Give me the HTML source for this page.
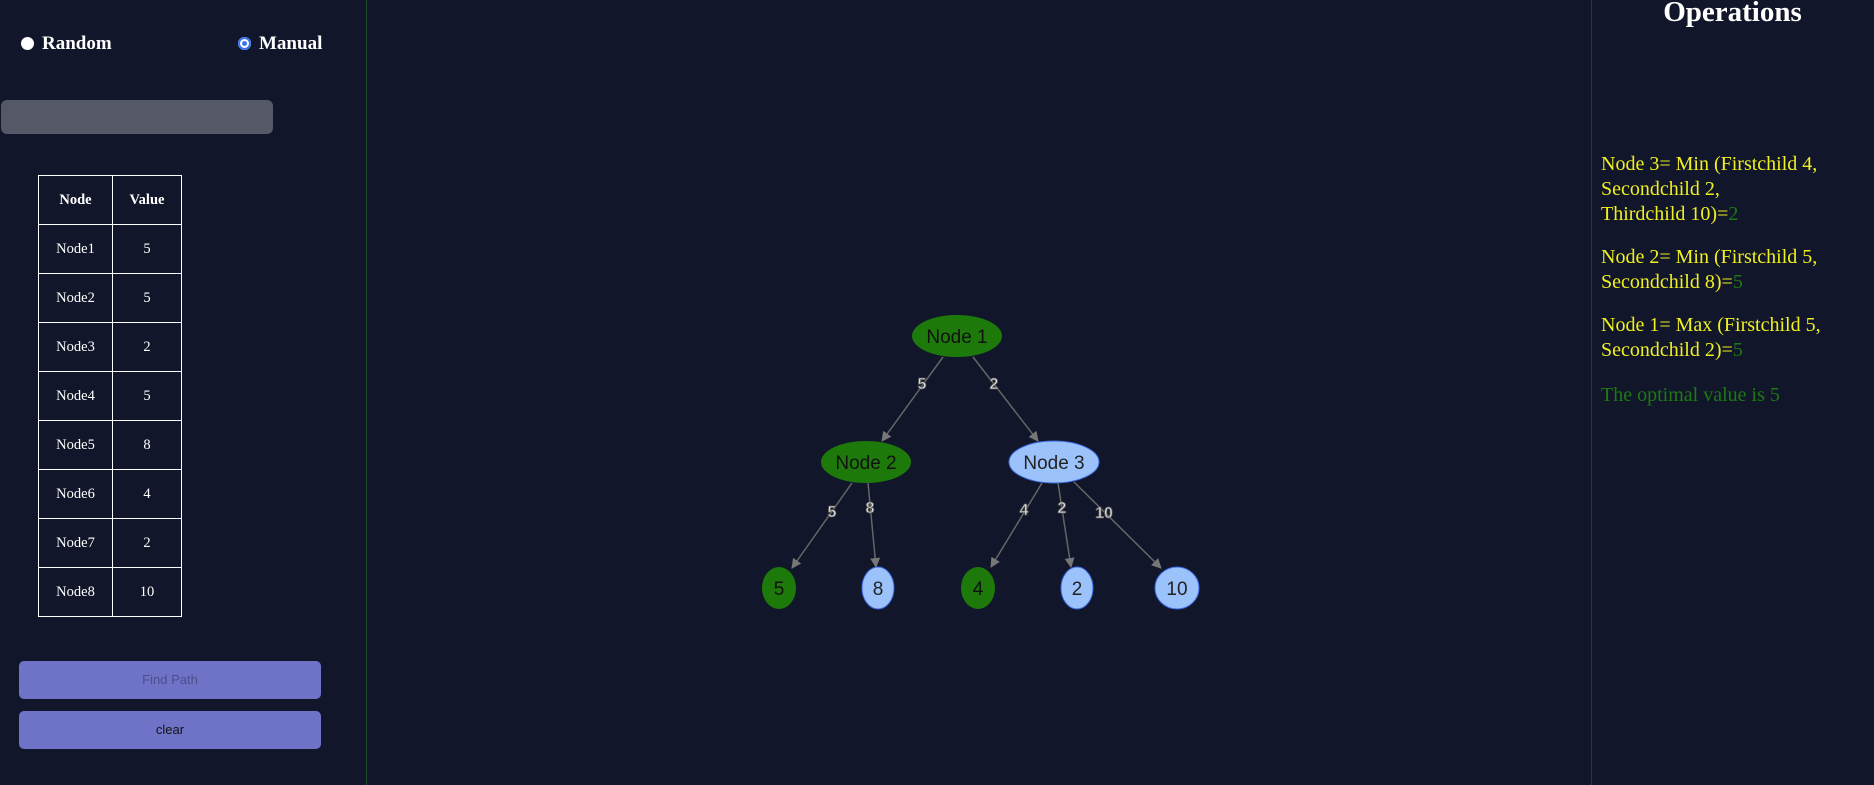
<!DOCTYPE html>
<html><head><style>
body{margin:0;width:1874px;height:785px;background:#11162a;overflow:hidden;font-family:"Liberation Serif",serif;position:relative}
.side{position:absolute;left:0;top:0;width:366px;height:785px;border-right:1px solid #1f4a2a}
.rp{position:absolute;left:1591px;top:0;width:283px;height:785px;border-left:1px solid #253a30}
.radio{position:absolute;top:37px;width:13px;height:13px;border-radius:50%;background:#fff}
.lbl{position:absolute;top:33px;color:#fff;font-weight:bold;font-size:19px}
.inp{position:absolute;left:1px;top:100px;width:272px;height:34px;background:#555866;border-radius:6px}
table{position:absolute;left:38px;top:175px;border-collapse:collapse;color:#fff;font-size:14.5px}
td,th{border:1px solid #fff;height:48px;text-align:center;padding:0}
.btn{position:absolute;left:19px;width:302px;height:38px;background:#6f73c8;border-radius:5px;font-family:"Liberation Sans",sans-serif;font-size:13px;text-align:center;line-height:38px}
.op{position:absolute;left:1601px;color:#f0f020;font-size:20px;line-height:25px;white-space:nowrap}
.g{color:#1d7a10}
</style></head><body>
<div class="side">
<div class="radio" style="left:21px"></div><div class="lbl" style="left:42px">Random</div>
<div class="radio" style="left:238px;box-shadow:inset 0 0 0 2px #3b72f0,inset 0 0 0 4px #fff,inset 0 0 0 7px #3b72f0"></div><div class="lbl" style="left:259px">Manual</div>
<div class="inp"></div>
<table>
<tr><th style="width:73px">Node</th><th style="width:68px">Value</th></tr>
<tr><td>Node1</td><td>5</td></tr><tr><td>Node2</td><td>5</td></tr><tr><td>Node3</td><td>2</td></tr><tr><td>Node4</td><td>5</td></tr><tr><td>Node5</td><td>8</td></tr><tr><td>Node6</td><td>4</td></tr><tr><td>Node7</td><td>2</td></tr><tr><td>Node8</td><td>10</td></tr>
</table>
<div class="btn" style="top:661px;color:#4a4f8a">Find Path</div>
<div class="btn" style="top:711px;color:#111">clear</div>
</div>
<svg style="position:absolute;left:0;top:0" width="1874" height="785" font-family="Liberation Sans, sans-serif">
<defs><marker id="a" markerWidth="10" markerHeight="10" refX="9" refY="5" orient="auto" markerUnits="userSpaceOnUse"><path d="M0,0 L10,5 L0,10z" fill="#777"/></marker></defs>
<g stroke="#666" stroke-width="1.5" marker-end="url(#a)">
<line x1="943" y1="357" x2="882" y2="441"/>
<line x1="973" y1="357" x2="1038" y2="441"/>
<line x1="852" y1="483" x2="792" y2="568"/>
<line x1="868" y1="483" x2="876" y2="567"/>
<line x1="1042" y1="483" x2="991" y2="567"/>
<line x1="1058" y1="483" x2="1071" y2="567"/>
<line x1="1074" y1="482" x2="1161" y2="568"/>
</g>
<g font-size="16" font-weight="bold" fill="#ddd" stroke="#555" stroke-width="0.8" text-anchor="middle">
<text x="922" y="389">5</text><text x="994" y="389">2</text>
<text x="832" y="517">5</text><text x="870" y="513">8</text>
<text x="1024" y="515">4</text><text x="1062" y="513">2</text><text x="1104" y="518">10</text>
</g>
<g font-size="19" text-anchor="middle" fill="#111">
<ellipse cx="957" cy="336" rx="45" ry="21" fill="#1d7a0a"/><text x="957" y="343">Node 1</text>
<ellipse cx="866" cy="462" rx="45" ry="21" fill="#1d7a0a"/><text x="866" y="469">Node 2</text>
<ellipse cx="1054" cy="462" rx="45" ry="21" fill="#9cc2fb" stroke="#3d6ae0"/><text x="1054" y="469" fill="#222">Node 3</text>
<ellipse cx="779" cy="588" rx="17" ry="21" fill="#1d7a0a"/><text x="779" y="595">5</text>
<ellipse cx="878" cy="588" rx="16" ry="21" fill="#9cc2fb" stroke="#3d6ae0"/><text x="878" y="595" fill="#222">8</text>
<ellipse cx="978" cy="588" rx="17" ry="21" fill="#1d7a0a"/><text x="978" y="595">4</text>
<ellipse cx="1077" cy="588" rx="16" ry="21" fill="#9cc2fb" stroke="#3d6ae0"/><text x="1077" y="595" fill="#222">2</text>
<ellipse cx="1177" cy="588" rx="22" ry="21" fill="#9cc2fb" stroke="#3d6ae0"/><text x="1177" y="595" fill="#222">10</text>
</g>
</svg>
<div class="rp"></div>
<div style="position:absolute;left:1591px;width:283px;top:-4px;text-align:center;color:#fff;font-weight:bold;font-size:29px">Operations</div>
<div class="op" style="top:152px">Node 3= Min (Firstchild 4,<br>Secondchild 2,<br>Thirdchild 10)=<span class="g">2</span></div>
<div class="op" style="top:245px">Node 2= Min (Firstchild 5,<br>Secondchild 8)=<span class="g">5</span></div>
<div class="op" style="top:313px">Node 1= Max (Firstchild 5,<br>Secondchild 2)=<span class="g">5</span></div>
<div class="op g" style="top:383px">The optimal value is 5</div>
</body></html>
